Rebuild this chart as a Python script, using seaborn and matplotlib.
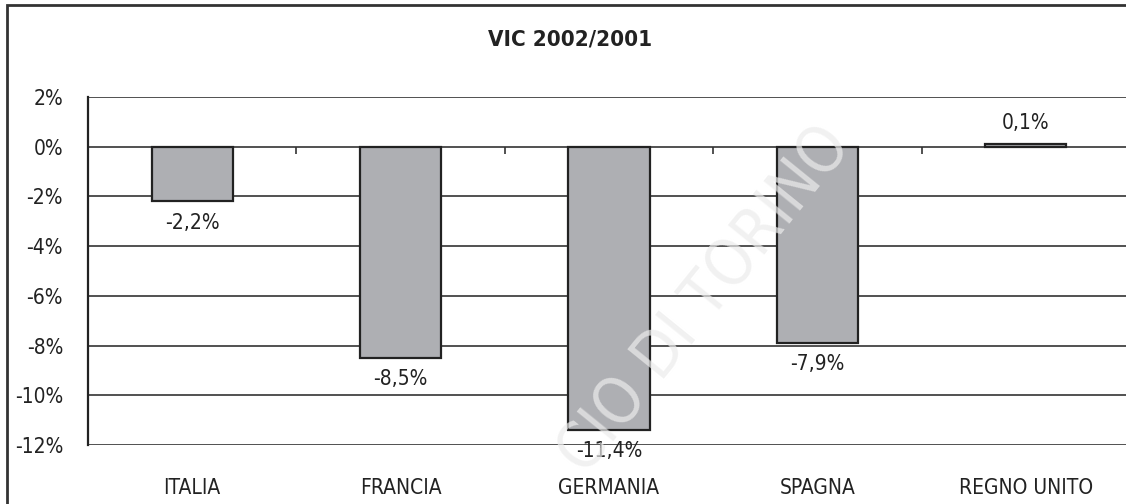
import numpy as np
import pandas as pd
import seaborn as sns
import matplotlib.pyplot as plt
from matplotlib.patches import Rectangle

# Data
countries = ["ITALIA", "FRANCIA", "GERMANIA", "SPAGNA", "REGNO UNITO"]
vic_change = [-2.2, -8.5, -11.4, -7.9, 0.1]
y_ticks = [2, 0, -2, -4, -6, -8, -10, -12]
chart_title = "VIC 2002/2001"

sns.set_style("white")
plt.rcParams["font.family"] = ["Liberation Sans Narrow", "DejaVu Sans"]
plt.rcParams["font.stretch"] = "condensed"

df = pd.DataFrame({"Paese": countries, "VIC": vic_change})

fig = plt.figure(figsize=(11.26, 5.04), dpi=100)
ax = fig.add_axes([88 / 1126, 1 - 445 / 504, 1042 / 1126, 348 / 504])

# horizontal gridlines
for t in y_ticks:
    ax.axhline(t, color="#333333", lw=1.2, zorder=1)

sns.barplot(data=df, x="Paese", y="VIC", color="#aeafb3", edgecolor="#222222",
            linewidth=1.6, width=0.39, saturation=1, ax=ax, zorder=3)

labels = [f"{v:.1f}%".replace(".", ",") for v in vic_change]
ax.bar_label(ax.containers[0], labels=labels, padding=8, fontsize=15, color="#222222")

ax.set_ylim(-12, 2)
ax.set_xlim(-0.5, 4.5)
ax.set_yticks(y_ticks)
ax.set_yticklabels([f"{t}%" for t in y_ticks], fontsize=15, color="#222222")
ax.tick_params(axis="y", length=6, width=1.2, color="#333333", pad=12)
ax.tick_params(axis="x", length=0, labelsize=15, labelcolor="#222222", pad=24)
ax.set_xlabel("")
ax.set_ylabel("")

for s in ["top", "right", "bottom"]:
    ax.spines[s].set_visible(False)
ax.spines["left"].set_color("#222222")
ax.spines["left"].set_linewidth(1.6)

# zero axis with small ticks between categories
zero_ax = ax.secondary_xaxis(12 / 14)
zero_ax.set_xticks([0.5, 1.5, 2.5, 3.5])
zero_ax.set_xticklabels([])
zero_ax.tick_params(direction="out", length=5, width=1.2, color="#333333")
zero_ax.spines["bottom"].set_visible(False)
zero_ax.spines["top"].set_visible(False)
zero_ax.xaxis.set_ticks_position("bottom")

fig.text(570 / 1126, 1 - 40 / 504, chart_title, ha="center", va="center",
         fontsize=16, fontweight="bold", color="#222222")

# outer frame
fig.patches.append(Rectangle((7 / 1126, -0.1), 1.2, 1 - 5 / 504 + 0.1,
                             transform=fig.transFigure, fill=False,
                             edgecolor="#333333", lw=2))

# faint watermark
fig.text(705 / 1126, 1 - 300 / 504, "CIO DI TORINO", ha="center", va="center",
         rotation=51, fontsize=46, color="#ececec", alpha=0.7, zorder=10)

fig.savefig("out.png", dpi=100)
